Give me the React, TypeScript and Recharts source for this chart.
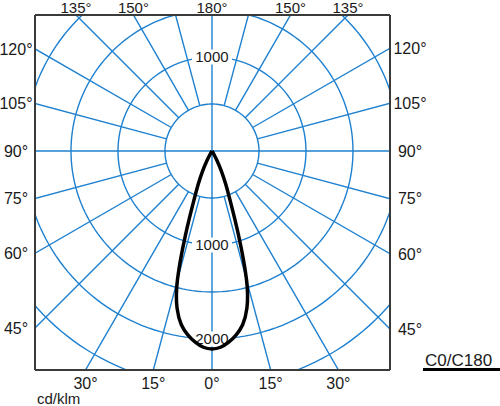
import React from 'react';
import { ComposedChart, Line, XAxis, YAxis, Label } from 'recharts';

const gammaDeg = [0, 2.5, 5, 7.5, 10, 12.5, 15, 17.5, 20, 22.5, 25, 27.5, 30, 32.5];
const cdC0 = [2106, 2090, 2042, 1973, 1877, 1715, 1421, 940, 573, 383, 241, 120, 40, 0];
const cdC180 = [2106, 2090, 2042, 1973, 1877, 1715, 1421, 940, 573, 383, 241, 120, 40, 0];

// polar grid
const gridCircles = [500, 1000, 1500, 2000, 2500, 3000];
const spokeStep = 15;
const valueLabels = [
  { cd: 1000, gamma: 180, text: '1000' },
  { cd: 1000, gamma: 0, text: '1000' },
  { cd: 2000, gamma: 0, text: '2000' },
];

// angle labels round the frame (negative = left half)
const sideAnglesLeft = [-45, -60, -75, -90, -105, -120];
const sideAnglesRight = [45, 60, 75, 90, 105, 120];
const topAngles = [-135, -150, 180, 150, 135];
const bottomAngles = [-30, -15, 0, 15, 30];

const X_MIN = -1883;
const X_MAX = 1894;
const Y_MIN = -2330;
const Y_MAX = 1447;

const GRID = '#1e80cf';
const INK = '#1a1a1a';
const FONT = '"Liberation Sans", Arial, Helvetica, sans-serif';

const rad = (d: number) => (d * Math.PI) / 180;
const polar = (cd: number, gamma: number) => ({
  x: cd * Math.sin(rad(gamma)),
  y: -cd * Math.cos(rad(gamma)),
});

// curve: C180 half (left) from the zero end down to nadir, then C0 half back up
const curve = [
  ...gammaDeg.map((g, i) => polar(cdC180[i], -g)).reverse(),
  ...gammaDeg.slice(1).map((g, i) => polar(cdC0[i + 1], g)),
];

const circles = gridCircles.map((cd) => {
  const pts = [];
  for (let a = 0; a <= 360; a += 2) pts.push(polar(cd, a));
  return pts;
});

const spokes: { x: number; y: number }[][] = [];
for (let a = 0; a < 360; a += spokeStep) {
  const inner = a % 90 === 0 ? 0 : gridCircles[0];
  spokes.push([polar(inner, a), polar(4000, a)]);
}

const labelPoints = valueLabels.map((l) => ({ ...polar(l.cd, l.gamma), text: l.text }));

const leftTicks = sideAnglesLeft.map((g) => (-X_MIN * Math.cos(rad(g))) / Math.sin(rad(g)));
const rightTicks = sideAnglesRight.map((g) => (-X_MAX * Math.cos(rad(g))) / Math.sin(rad(g)));
const topTicks = topAngles.map((g) => -Y_MAX * Math.tan(rad(g)));
const bottomTicks = bottomAngles.map((g) => -Y_MIN * Math.tan(rad(g)));

const angleText = (ticks: number[], angles: number[], v: number) => {
  const i = ticks.findIndex((t) => Math.abs(t - v) < 1e-3);
  return i < 0 ? '' : `${Math.abs(angles[i])}°`;
};

const makeTick = (ticks: number[], angles: number[], dy: string, size = 16) => (props: any) => {
  const { x, y, payload } = props;
  return (
    <text x={x} y={y} dy={dy} textAnchor="middle" fontSize={size} fill={INK} fontFamily={FONT}>
      {angleText(ticks, angles, payload.value)}
    </text>
  );
};

const ValueLabel = (p: any) => {
  if (p.cx == null || p.cy == null) return null;
  return (
    <g key={`v${p.index}`}>
      <rect x={p.cx - 20} y={p.cy - 7.5} width={40} height={15} fill="#fff" />
      <text x={p.cx} y={p.cy} dy="0.36em" textAnchor="middle" fontSize={15} fill={INK} fontFamily={FONT}>
        {p.payload.text}
      </text>
    </g>
  );
};

const frame = { stroke: '#3a3a3a', strokeWidth: 2 };

export default function App() {
  return (
    <div style={{ position: 'relative', width: 500, height: 406, fontFamily: FONT }}>
      <style>{'body{margin:0}'}</style>
      <ComposedChart width={500} height={406} margin={{ top: 0, right: 0, bottom: 0, left: 0 }}>
        <XAxis
          xAxisId={0}
          dataKey="x"
          type="number"
          domain={[X_MIN, X_MAX]}
          allowDataOverflow
          ticks={bottomTicks}
          interval={0}
          height={36}
          axisLine={frame}
          tickLine={false}
          tickSize={0}
          tickMargin={8}
          tick={makeTick(bottomTicks, bottomAngles, '0.71em')}
        >
          <Label
            value="cd/klm"
            position="insideBottomLeft"
            offset={2}
            fontSize={15}
            fill={INK}
            fontFamily={FONT}
          />
        </XAxis>
        <XAxis
          xAxisId="top"
          orientation="top"
          dataKey="x"
          type="number"
          domain={[X_MIN, X_MAX]}
          allowDataOverflow
          ticks={topTicks}
          interval={0}
          height={15}
          axisLine={frame}
          tickLine={false}
          tickSize={0}
          tickMargin={2}
          tick={makeTick(topTicks, topAngles, '0', 15)}
        />
        <YAxis
          yAxisId={0}
          dataKey="y"
          type="number"
          domain={[Y_MIN, Y_MAX]}
          allowDataOverflow
          ticks={leftTicks}
          interval={0}
          width={35}
          axisLine={frame}
          tickLine={false}
          tickSize={0}
          tickMargin={19}
          tick={makeTick(leftTicks, sideAnglesLeft, '0.36em')}
        />
        <YAxis
          yAxisId="right"
          orientation="right"
          dataKey="y"
          type="number"
          domain={[Y_MIN, Y_MAX]}
          allowDataOverflow
          ticks={rightTicks}
          interval={0}
          width={110}
          axisLine={frame}
          tickLine={false}
          tickSize={0}
          tickMargin={20}
          tick={makeTick(rightTicks, sideAnglesRight, '0.36em')}
        />

        {circles.map((pts, i) => (
          <Line
            key={`c${i}`}
            data={pts}
            dataKey="y"
            type="linear"
            stroke={GRID}
            strokeWidth={1.4}
            dot={false}
            activeDot={false}
            isAnimationActive={false}
          />
        ))}
        {spokes.map((pts, i) => (
          <Line
            key={`s${i}`}
            data={pts}
            dataKey="y"
            type="linear"
            stroke={GRID}
            strokeWidth={1.4}
            dot={false}
            activeDot={false}
            isAnimationActive={false}
          />
        ))}

        {/* intensity values written on the 0/180 axis, white box breaks the grid */}
        <Line
          data={labelPoints}
          dataKey="y"
          stroke="none"
          dot={ValueLabel}
          activeDot={false}
          isAnimationActive={false}
        />

        <Line
          data={curve}
          dataKey="y"
          type="natural"
          stroke="#000"
          strokeWidth={3.5}
          dot={false}
          activeDot={false}
          isAnimationActive={false}
          {...({ zIndex: 2000 } as any)}
        />
      </ComposedChart>

      {/* legend: C-plane name over the line style */}
      <div
        style={{
          position: 'absolute',
          left: 423,
          top: 353,
          width: 77,
          paddingLeft: 2,
          boxSizing: 'border-box',
          fontSize: 17,
          lineHeight: '15px',
          color: INK,
          borderBottom: '3px solid #000',
        }}
      >
        C0/C180
      </div>
    </div>
  );
}
